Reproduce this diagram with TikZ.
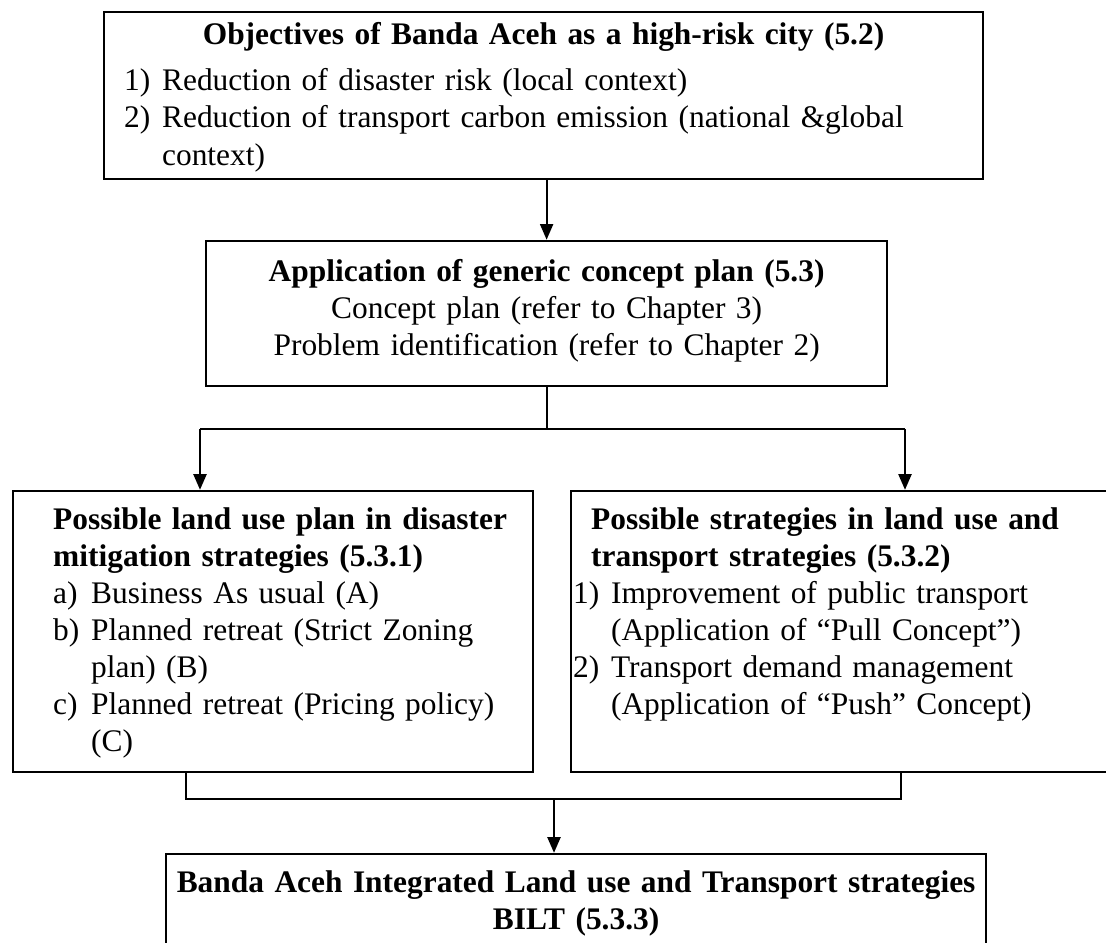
\documentclass[tikz,border=0pt]{standalone}
\usepackage{fontspec}
\setmainfont{Liberation Serif}
\usepackage{tikz}
\usetikzlibrary{arrows.meta}

\newlength{\itmw}
\setlength{\itmw}{14.5pt}
% list entry with hanging indent, optional shift of the label
\newcommand{\itm}[3][0pt]{\par\noindent\hangindent=\dimexpr\itmw+#1\relax\hangafter=1
  \hspace*{#1}\makebox[\itmw][l]{#2}#3\par}
\hyphenpenalty=10000

\begin{document}
\begin{tikzpicture}[
    x=0.382pt, y=-0.382pt,
    box/.style={draw, line width=0.9pt, anchor=base west, inner ysep=0pt,
        font=\fontsize{12pt}{14.1pt}\selectfont},
    link/.style={line width=0.75pt},
    arr/.style={link, -{Triangle[width=5pt,length=6pt]}}
]
\useasboundingbox (0,0) rectangle (1106,943);
\clip (0,0) rectangle (1106,943);

% objectives and generic plan
\node[box, align=left, text width=320.4pt, inner xsep=7.64pt, text height=12.6pt, text depth=51.2pt,
    font=\fontsize{12pt}{14.5pt}\selectfont] (obj) at (103,45) {%
    \makebox[\linewidth]{\bfseries Objectives of Banda Aceh as a high-risk city (5.2)}\par\vspace{2.7pt}
    \itm{1)}{Reduction of disaster risk (local context)}
    \itm{2)}{Reduction of transport carbon emission (national \&global\newline context)}};
\node[box, align=center, text width=240.1pt, inner xsep=10pt, text height=15.7pt, text depth=39.7pt]
    (app) at (205,282) {%
    \textbf{Application of generic concept plan (5.3)}\\
    Concept plan (refer to Chapter 3)\\
    Problem identification (refer to Chapter 2)};

% the two strategy branches
\node[box, align=left, text width=168pt, inner xsep=15.3pt, text height=14.9pt, text depth=92.4pt]
    (land) at (12,530) {%
    \mbox{\bfseries Possible land use plan in disaster}\newline
    \mbox{\bfseries mitigation strategies (5.3.1)}
    \itm{a)}{Business As usual (A)}
    \itm{b)}{\mbox{Planned retreat (Strict Zoning}\newline plan) (B)}
    \itm{c)}{\mbox{Planned retreat (Pricing policy)}\newline (C)}};
\node[box, align=left, text width=198.6pt, inner xsep=7.64pt, text height=14.9pt, text depth=92.4pt]
    (strat) at (570,530) {%
    \textbf{Possible strategies in land use and\newline transport strategies (5.3.2)}
    \itm[-6.9pt]{1)}{Improvement of public transport\newline (Application of “Pull Concept”)}
    \itm[-6.9pt]{2)}{Transport demand management\newline (Application of “Push” Concept)}};

% integrated result
\node[box, align=center, text width=305.2pt, inner xsep=4pt, text height=14.9pt, text depth=29.4pt]
    (bilt) at (165,893) {%
    \textbf{Banda Aceh Integrated Land use and Transport strategies}\\
    \textbf{BILT (5.3.3)}};

\coordinate (splitL) at (200,429);
\coordinate (splitR) at (905,429);
\coordinate (joinL) at (186,799);
\coordinate (joinR) at (901,799);
\coordinate (joinM) at (554,799);

\draw[arr] (app.north |- obj.south) -- (app.north);
\draw[link] (app.south) -- (app.south |- splitL);
\draw[link] (splitL) -- (splitR);
\draw[arr] (splitL) -- (splitL |- land.north);
\draw[arr] (splitR) -- (splitR |- strat.north);
\draw[link] (joinL |- land.south) -- (joinL) -- (joinR) -- (joinR |- strat.south);
\draw[arr] (joinM) -- (joinM |- bilt.north);
\end{tikzpicture}
\end{document}
